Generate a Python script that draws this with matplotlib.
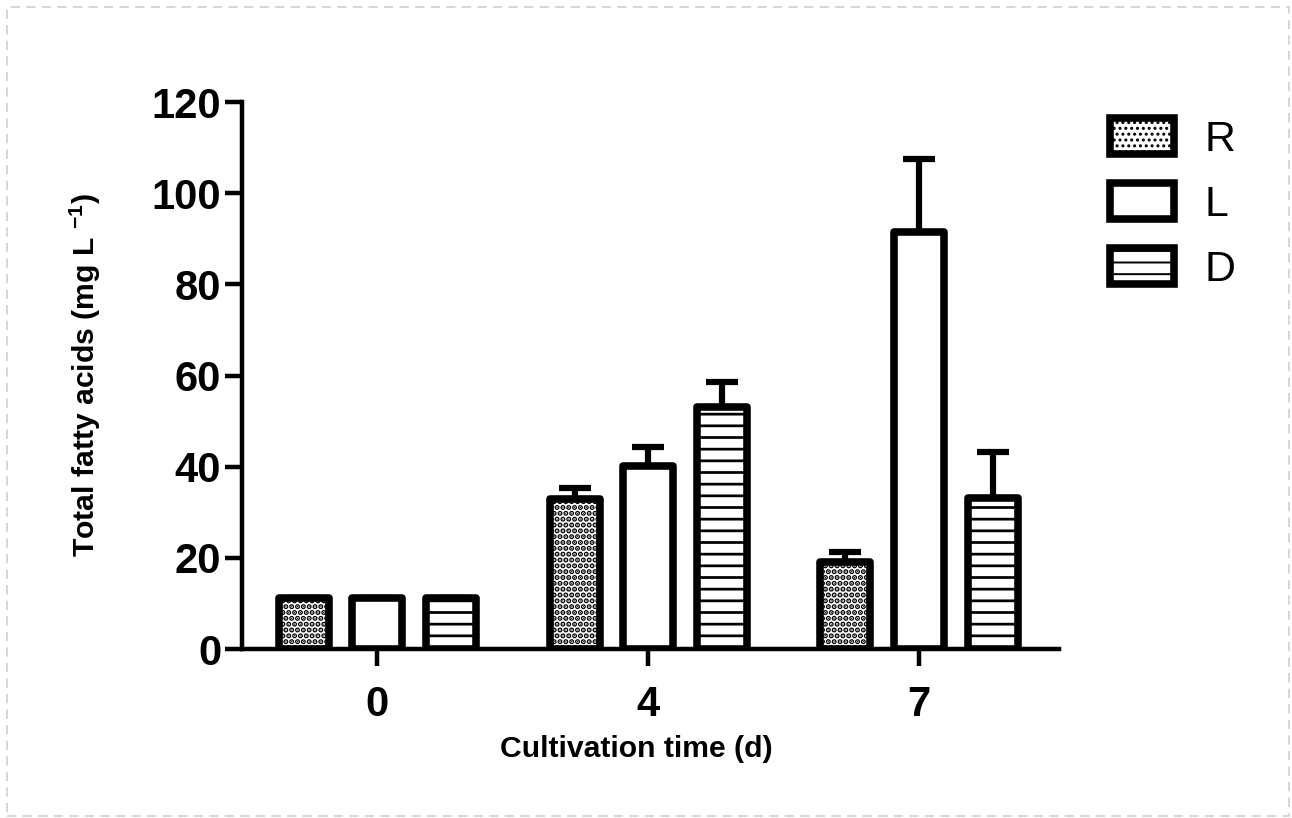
import numpy as np
import matplotlib
matplotlib.use('Agg')
import matplotlib.pyplot as plt
from matplotlib.patches import Rectangle

# 数据
days = ['0', '4', '7']
groups = ['R', 'L', 'D']
hatches = ['....', '', '--']
hatch_lw = [1.9, 1.0, 1.4]
means = {
    'R': [11.2, 33.0, 19.1],
    'L': [11.2, 40.2, 91.4],
    'D': [11.2, 53.1, 33.2],
}
errs = {
    'R': [0.0, 2.3, 2.1],
    'L': [0.0, 4.2, 16.1],
    'D': [0.0, 5.4, 10.0],
}

DPI = 140
plt.rcParams['font.family'] = ['Liberation Sans', 'DejaVu Sans']
plt.rcParams['mathtext.fontset'] = 'custom'
plt.rcParams['mathtext.rm'] = 'Liberation Sans:bold'
plt.rcParams['mathtext.bf'] = 'Liberation Sans:bold'

fig = plt.figure(figsize=(1292 / DPI, 818 / DPI), dpi=DPI)
ax = fig.add_axes([0.1873, 0.2066, 0.8197 - 0.1873, 0.8753 - 0.2066])

x = np.arange(len(days))
width = 0.185
offset = 0.272

for i, g in enumerate(groups):
    pos = x + (i - 1) * offset
    with plt.rc_context({'hatch.linewidth': hatch_lw[i]}):
        ax.bar(pos, means[g], width, facecolor='white', edgecolor='black',
               linewidth=3.9, hatch=hatches[i], label=g, zorder=3,
               joinstyle='round')
    lower = np.zeros(len(days))
    eb = ax.errorbar(pos, means[g], yerr=[lower, errs[g]], fmt='none',
                     ecolor='black', elinewidth=3.2, capsize=8.2,
                     capthick=3.2, zorder=2)
    for c in eb[1]:
        c.set_solid_capstyle('round')

ax.set_xlim(-0.5, 2.517)
ax.set_ylim(0, 120)
ax.set_xticks(x)
ax.set_xticklabels(days)
ax.set_yticks(np.arange(0, 121, 20))

for side in ['top', 'right']:
    ax.spines[side].set_visible(False)
for side in ['left', 'bottom']:
    ax.spines[side].set_linewidth(2.3)

ax.tick_params(axis='both', length=8.7, width=2.3, labelsize=21.5)
ax.tick_params(axis='x', pad=10)
ax.tick_params(axis='y', pad=2)
for lab in ax.get_xticklabels() + ax.get_yticklabels():
    lab.set_fontweight('bold')

ax.set_xlabel('Cultivation time (d)', fontsize=15.5, fontweight='bold')
ax.xaxis.set_label_coords(0.483, -0.158)
ax.set_ylabel(r'Total fatty acids (mg L $^{-1}$)', fontsize=15.5,
              fontweight='bold', labelpad=25)

leg = fig.legend(loc='upper left', bbox_to_anchor=(1110 / 1292, 1 - 118 / 818),
                 frameon=False, fontsize=22, handlelength=1.5, handleheight=0.9,
                 handletextpad=0.7, labelspacing=0.55, borderpad=0,
                 borderaxespad=0)

# 外围虚线边框
fig.patches.append(Rectangle((7 / 1292, 1 - 816 / 818), 1282 / 1292, 809 / 818,
                             transform=fig.transFigure, fill=False,
                             edgecolor='#cccccc', linestyle=(0, (6, 4)),
                             linewidth=0.8))

fig.savefig('out.png', dpi=DPI)
